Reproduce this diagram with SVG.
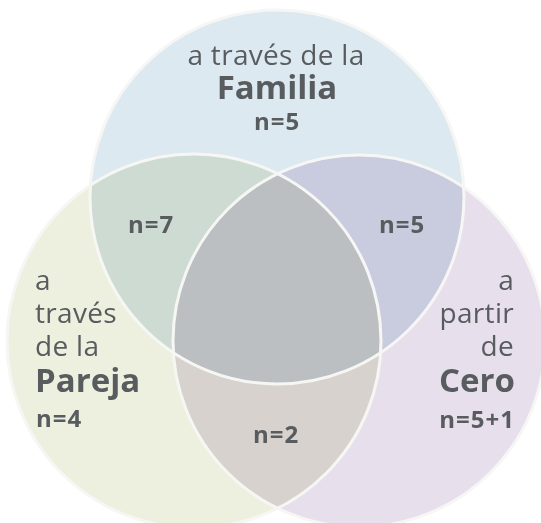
<svg xmlns="http://www.w3.org/2000/svg" width="541" height="523" viewBox="0 0 541 523">
<style>
.fill{mix-blend-mode:multiply}
.rim{fill:none;stroke:#f6f6f4;stroke-width:3}
text{font-family:"Open Sans","Noto Sans",sans-serif;fill:#585c5f}
.r{font-size:28px;letter-spacing:0.3px}
.b{font-size:33px;font-weight:bold}
.n{font-size:24px;font-weight:bold;letter-spacing:1px}
</style>
<rect width="541" height="523" fill="#ffffff"/>
<g id="circles" style="isolation:isolate">
<circle class="fill" cx="277" cy="197" r="187" fill="#dde9f0"/>
<circle class="fill" cx="194" cy="341" r="187" fill="#eef0df"/>
<circle class="fill" cx="359" cy="341" r="186" fill="#e8dfec"/>
</g>
<g id="rims">
<circle class="rim" cx="277" cy="197" r="187"/>
<circle class="rim" cx="194" cy="341" r="187"/>
<circle class="rim" cx="359" cy="341" r="186"/>
</g>
<g id="familia">
<text class="r" x="276" y="65" text-anchor="middle">a través de la</text>
<text class="b" x="277" y="99" text-anchor="middle">Familia</text>
<text class="n" x="277" y="130" text-anchor="middle">n=5</text>
</g>
<g id="pareja">
<text class="r" x="35" y="290">a</text>
<text class="r" x="35" y="323">través</text>
<text class="r" x="35" y="356">de la</text>
<text class="b" x="35" y="392">Pareja</text>
<text class="n" x="36" y="427">n=4</text>
</g>
<g id="cero">
<text class="r" x="514" y="290" text-anchor="end">a</text>
<text class="r" x="514" y="323" text-anchor="end">partir</text>
<text class="r" x="514" y="356" text-anchor="end">de</text>
<text class="b" x="515" y="392" text-anchor="end">Cero</text>
<text class="n" x="515" y="428" text-anchor="end">n=5+1</text>
</g>
<g id="overlaps">
<text class="n" x="151" y="233" text-anchor="middle">n=7</text>
<text class="n" x="402" y="233" text-anchor="middle">n=5</text>
<text class="n" x="276" y="443" text-anchor="middle">n=2</text>
</g>
</svg>
